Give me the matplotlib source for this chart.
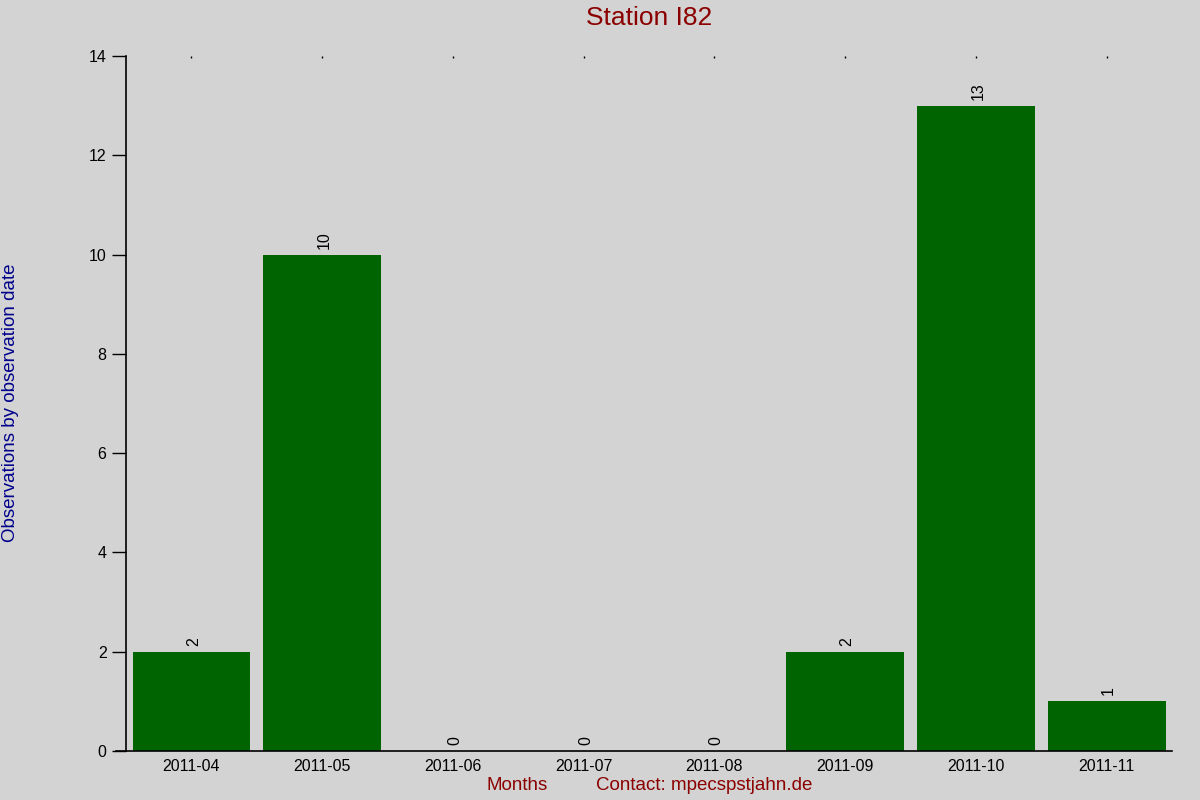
import matplotlib
matplotlib.use('Agg')
from matplotlib import pyplot as plt

months = ['2011-04', '2011-05', '2011-06', '2011-07', '2011-08', '2011-09', '2011-10', '2011-11']
counts = [2, 10, 0, 0, 0, 2, 13, 1]
y_ticks = [0, 2, 4, 6, 8, 10, 12, 14]

plt.rcParams['font.family'] = ['Liberation Sans', 'DejaVu Sans']
bg = '#d3d3d3'
red = '#8b0000'

fig = plt.figure(figsize=(12, 8), dpi=100, facecolor=bg)
ax = fig.add_axes([0.105, 0.06125, 0.8717, 0.86875])
ax.set_facecolor(bg)

x = list(range(len(months)))
bars = ax.bar(x, counts, width=0.9, color='#006400')

# value labels above each bar
for xi, v in zip(x, counts):
    ax.text(xi + 0.015, v + 0.12, str(v), rotation=90, ha='center', va='bottom', fontsize=11.5)

ax.set_xlim(-0.5, len(months) - 0.5)
ax.set_ylim(0, 14)
ax.set_yticks(y_ticks)
ax.set_xticks(x)
ax.set_xticklabels(months)
ax.tick_params(axis='y', length=10, width=1, labelsize=11.5, pad=4)
ax.tick_params(axis='x', labelsize=11.5, pad=6, bottom=False, top=True,
               direction='in', length=1.2, width=1)

ax.spines['top'].set_visible(False)
ax.spines['right'].set_visible(False)
ax.spines['left'].set_linewidth(1.2)
ax.spines['bottom'].set_linewidth(1.2)
ax.spines['bottom'].set_bounds(-0.5 - 10 / 130.75, len(months) - 0.5)

fig.text(0.541, 0.977, 'Station I82', ha='center', va='center', fontsize=19, color=red)
fig.text(0.431, 0.018, 'Months', ha='center', va='center', fontsize=13.5, color=red)
fig.text(0.587, 0.018, 'Contact: mpecspstjahn.de', ha='center', va='center', fontsize=13.5, color=red)
fig.text(0.009, 0.496, 'Observations by observation date', rotation=90,
         ha='center', va='center', fontsize=13.5, color='#00008b')

fig.savefig('out.png', dpi=100, facecolor=bg)
